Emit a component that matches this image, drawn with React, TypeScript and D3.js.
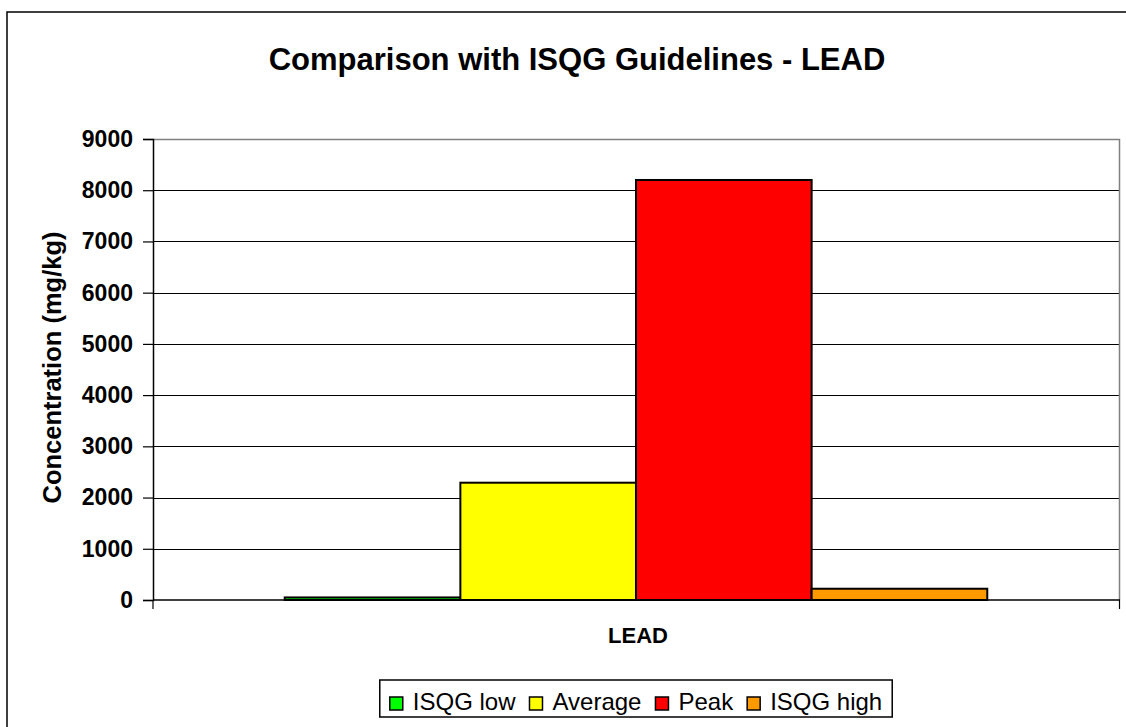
import { useRef, useEffect } from "react";
import * as d3 from "d3";

const categories = ["LEAD"];
const seriesNames = ["ISQG low", "Average", "Peak", "ISQG high"];
const seriesValues = [50, 2290, 8200, 220];
const seriesColors = ["#00ff00", "#ffff00", "#ff0000", "#ff9900"];
const yTicks = [0, 1000, 2000, 3000, 4000, 5000, 6000, 7000, 8000, 9000];

const title = "Comparison with ISQG Guidelines - LEAD";
const yLabel = "Concentration (mg/kg)";

const W = 1126;
const H = 727;
const FONT = "'Liberation Sans', Arial, sans-serif";

export default function App() {
    const ref = useRef<SVGSVGElement>(null);

    useEffect(() => {
        if (!ref.current) return;
        const svg = d3.select(ref.current);
        svg.selectAll("*").remove();

        const plot = { left: 153, top: 139, right: 1119, bottom: 600 };

        // outer chart frame (runs off the right and bottom edges)
        svg.append("rect")
            .attr("x", 7).attr("y", 12)
            .attr("width", 1160).attr("height", 760)
            .attr("fill", "white").attr("stroke", "#000").attr("stroke-width", 1.5);

        const y = d3.scaleLinear().domain([0, 9000]).range([plot.bottom, plot.top]);
        const x0 = d3.scaleBand<string>().domain(categories).range([plot.left, plot.right]);
        const x1 = d3.scaleBand<string>().domain(seriesNames)
            .range([0, x0.bandwidth()]).paddingInner(0).paddingOuter(0.75);

        // gridlines
        svg.append("g").selectAll("line").data(yTicks.slice(1)).join("line")
            .attr("x1", plot.left).attr("x2", plot.right)
            .attr("y1", (d) => Math.round(y(d)) + 0.5).attr("y2", (d) => Math.round(y(d)) + 0.5)
            .attr("stroke", "#000").attr("stroke-width", 1);

        // plot border top/right
        svg.append("path")
            .attr("d", `M${plot.left},${plot.top + 0.5}H${plot.right + 0.5}V${plot.bottom}`)
            .attr("fill", "none").attr("stroke", "#808080").attr("stroke-width", 1.5);

        // bars
        svg.append("g").selectAll("rect").data(seriesNames).join("rect")
            .attr("x", (d) => (x0(categories[0]) || 0) + (x1(d) || 0))
            .attr("y", (_, i) => y(seriesValues[i]))
            .attr("width", x1.bandwidth())
            .attr("height", (_, i) => plot.bottom - y(seriesValues[i]))
            .attr("fill", (_, i) => seriesColors[i])
            .attr("stroke", "#000").attr("stroke-width", 2);

        // y axis
        const yAxis = svg.append("g")
            .attr("transform", `translate(${plot.left},0)`)
            .call(d3.axisLeft(y).tickValues(yTicks).tickSize(10).tickPadding(10).tickFormat(d3.format("d")));
        yAxis.select(".domain").attr("stroke", "#000").attr("stroke-width", 1.5);
        yAxis.selectAll(".tick line").attr("stroke", "#000").attr("stroke-width", 1.2);
        yAxis.selectAll("text")
            .attr("font-family", FONT).attr("font-size", 23).attr("font-weight", "bold").attr("fill", "#000");

        // x axis
        const xAxis = svg.append("g").attr("transform", `translate(0,${plot.bottom})`);
        xAxis.append("line")
            .attr("x1", plot.left).attr("x2", plot.right + 1)
            .attr("stroke", "#000").attr("stroke-width", 1.5);
        xAxis.selectAll("line.tk").data([plot.left, plot.right + 0.5]).join("line")
            .attr("class", "tk")
            .attr("x1", (d) => d).attr("x2", (d) => d).attr("y1", 0).attr("y2", 9)
            .attr("stroke", "#000").attr("stroke-width", 1.2);
        xAxis.selectAll("text").data(categories).join("text")
            .attr("x", (d) => (x0(d) || 0) + x0.bandwidth() / 2 + 2)
            .attr("y", 43)
            .attr("text-anchor", "middle")
            .attr("font-family", FONT).attr("font-size", 22).attr("font-weight", "bold")
            .text((d) => d);

        // title
        svg.append("text")
            .attr("x", 577).attr("y", 70)
            .attr("text-anchor", "middle")
            .attr("font-family", FONT).attr("font-size", 31).attr("font-weight", "bold")
            .text(title);

        // y label
        svg.append("text")
            .attr("transform", `translate(61,${(plot.top + plot.bottom) / 2 - 2}) rotate(-90)`)
            .attr("text-anchor", "middle")
            .attr("font-family", FONT).attr("font-size", 25.5).attr("font-weight", "bold")
            .text(yLabel);

        // legend
        const lg = svg.append("g");
        const box = lg.append("rect").attr("fill", "white").attr("stroke", "#000").attr("stroke-width", 1.5);
        const sw = 13, pad = 10, gapAfterSwatch = 10, gapItems = 14;
        let cx = pad;
        const items: { x: number; tx: number }[] = [];
        const texts = lg.selectAll("text").data(seriesNames).join("text")
            .attr("font-family", FONT).attr("font-size", 24).attr("fill", "#000")
            .text((d) => d);
        texts.each(function () {
            const w = (this as SVGTextElement).getComputedTextLength();
            items.push({ x: cx, tx: cx + sw + gapAfterSwatch });
            cx += sw + gapAfterSwatch + w + gapItems;
        });
        const totalW = cx - gapItems + pad;
        const lx = (plot.left + plot.right) / 2 - totalW / 2;
        const ly = 680;
        box.attr("x", lx).attr("y", ly).attr("width", totalW).attr("height", 37);
        texts.attr("x", (_, i) => lx + items[i].tx).attr("y", ly + 30);
        lg.selectAll("rect.sw").data(seriesNames).join("rect")
            .attr("class", "sw")
            .attr("x", (_, i) => lx + items[i].x)
            .attr("y", ly + 17)
            .attr("width", sw).attr("height", sw)
            .attr("fill", (_, i) => seriesColors[i])
            .attr("stroke", "#000").attr("stroke-width", 1.5);
    }, []);

    return (
        <svg
            ref={ref}
            width={W}
            height={H}
            style={{ position: "absolute", left: 0, top: 0, background: "white" }}
        />
    );
}
